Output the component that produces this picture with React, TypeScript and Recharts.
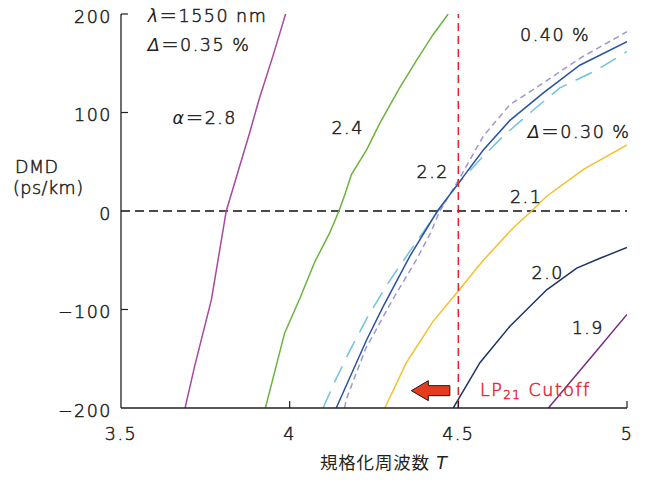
import React from "react";
import { LineChart, Line, XAxis, YAxis, ReferenceLine, ReferenceDot } from "recharts";

// ---- data (normalized frequency T, DMD ps/km) ----
const a28T = [3.69, 3.718, 3.768, 3.812, 3.881, 3.909, 3.95, 3.988];
const a28D = [-200, -158, -90, 0, 79, 113, 157, 200];

const a24T = [3.928, 3.985, 4.031, 4.074, 4.119, 4.146, 4.163, 4.183, 4.228, 4.267, 4.326, 4.376, 4.425, 4.47];
const a24D = [-200, -124, -88, -52, -22, 0, 16, 37, 62, 89, 125, 153, 179, 200];

const a22T = [4.138, 4.185, 4.228, 4.277, 4.356, 4.438, 4.5, 4.574, 4.653, 4.752, 4.86, 5.0];
const a22D = [-200, -164, -131, -97, -46, 0, 28, 62, 92, 120, 148, 172];

const d30T = [4.099, 4.134, 4.178, 4.232, 4.292, 4.356, 4.44, 4.5, 4.564, 4.633, 4.717, 4.801, 4.91, 5.0];
const d30D = [-200, -173, -142, -107, -73, -41, 0, 28, 52, 76, 101, 125, 143, 162];

const d40T = [4.163, 4.168, 4.225, 4.305, 4.375, 4.418, 4.445, 4.5, 4.574, 4.653, 4.752, 4.86, 5.0];
const d40D = [-200, -191, -140, -90, -50, -22, 0, 31, 76, 108, 130, 155, 182];

const a21T = [4.282, 4.346, 4.425, 4.498, 4.574, 4.663, 4.717, 4.762, 4.87, 5.0];
const a21D = [-200, -154, -112, -82, -50, -17, 0, 15, 42, 67];

const a20T = [4.485, 4.564, 4.653, 4.762, 4.851, 4.92, 5.0];
const a20D = [-200, -154, -117, -80, -58, -48, -37];

const a19T = [4.767, 4.88, 5.0];
const a19D = [-200, -154, -105];

const xTicks = [3.5, 4, 4.5, 5];
const yTicks = [-200, -100, 0, 100, 200];
const cutoffT = 4.5;

const toRows = (t: number[], d: number[]) => t.map((x, i) => ({ x, y: d[i] }));

const series = [
  { key: "a28", data: toRows(a28T, a28D), color: "#a8489e", dash: undefined },
  { key: "a24", data: toRows(a24T, a24D), color: "#6cb33e", dash: undefined },
  { key: "d30", data: toRows(d30T, d30D), color: "#6ec5d8", dash: "18 10" },
  { key: "d40", data: toRows(d40T, d40D), color: "#9c98d0", dash: "6 4" },
  { key: "a22", data: toRows(a22T, a22D), color: "#2a51a2", dash: undefined },
  { key: "a21", data: toRows(a21T, a21D), color: "#f5bf2c", dash: undefined },
  { key: "a20", data: toRows(a20T, a20D), color: "#1e3366", dash: undefined },
  { key: "a19", data: toRows(a19T, a19D), color: "#782b82", dash: undefined },
];

const FONT = "'DejaVu Sans', 'Noto Sans CJK JP', sans-serif";
const FW = 200;
const SW = 0.5;
const TXT = "#231f20";
const FS = 17.5;
const LS = 1.5;

type Ann = { x: number; y: number; parts: { t: string; it?: boolean; sub?: boolean }[]; color?: string };
const annotations: Ann[] = [
  { x: 3.579, y: 198, parts: [{ t: "λ", it: true }, { t: "＝1550 nm" }] },
  { x: 3.579, y: 168.6, parts: [{ t: "Δ", it: true }, { t: "＝0.35 %" }] },
  { x: 3.653, y: 94.5, parts: [{ t: "α", it: true }, { t: "＝2.8" }] },
  { x: 4.124, y: 84.4, parts: [{ t: "2.4" }] },
  { x: 4.376, y: 40.1, parts: [{ t: "2.2" }] },
  { x: 4.683, y: 178.7, parts: [{ t: "0.40 %" }] },
  { x: 4.706, y: 80.3, parts: [{ t: "Δ", it: true }, { t: "＝0.30 %" }] },
  { x: 4.653, y: 14.7, parts: [{ t: "2.1" }] },
  { x: 4.717, y: -62.7, parts: [{ t: "2.0" }] },
  { x: 4.836, y: -118.5, parts: [{ t: "1.9" }] },
  { x: 4.564, y: -181.4, parts: [{ t: "LP" }, { t: "21", sub: true }, { t: " Cutoff" }], color: "#e8242e" },
];

const textShape = (a: Ann) => (props: any) => (
  <text
    x={props.cx}
    y={props.cy}
    dominantBaseline="central"
    fontFamily={FONT}
    fontWeight={FW}
    fontSize={FS}
    letterSpacing={LS}
    fill={a.color || TXT}
    stroke={a.color || TXT}
    strokeWidth={SW}
  >
    {a.parts.map((p, i) => (
      <tspan
        key={i}
        fontStyle={p.it ? "italic" : undefined}
        fontWeight={p.it ? 400 : undefined}
        strokeWidth={p.it ? 0 : undefined}
        fontSize={p.sub ? 12 : undefined}
        dy={p.sub ? 5 : i > 0 && a.parts[i - 1].sub ? -5 : undefined}
      >
        {p.t}
      </tspan>
    ))}
  </text>
);

const arrowShape = (props: any) => {
  const { cx, cy } = props;
  const d = `M ${cx - 20} ${cy} L ${cx - 3} ${cy - 10} L ${cx - 3} ${cy - 5} L ${cx + 18.5} ${cy - 5} L ${cx + 18.5} ${cy + 5} L ${cx - 3} ${cy + 5} L ${cx - 3} ${cy + 10} Z`;
  return <path d={d} fill="#e63c1e" stroke="#1a1a1a" strokeWidth={1} />;
};

const fmtY = (v: number) => (v < 0 ? "−" + Math.abs(v) : String(v));

const txtProps = { fontFamily: FONT, fontWeight: FW, fontSize: FS, fill: TXT, stroke: TXT, strokeWidth: SW };

const YTick = (props: any) => {
  const { x, y, payload } = props;
  const ax = x + 9;
  return (
    <g>
      {payload.value !== -200 && payload.value !== 0 && (
        <line x1={ax} x2={ax + 7} y1={y} y2={y} stroke={TXT} strokeWidth={1.2} />
      )}
      <text x={x} y={y + 2.5} textAnchor="end" dominantBaseline="central" letterSpacing={LS} {...txtProps}>
        {fmtY(payload.value)}
      </text>
    </g>
  );
};

const XTick = (props: any) => {
  const { x, y, payload } = props;
  const ay = y - 9;
  return (
    <g>
      {payload.value !== 3.5 && (
        <line x1={x} x2={x} y1={ay} y2={ay - 7} stroke={TXT} strokeWidth={1.2} />
      )}
      <text x={x} y={ay + 25.5} textAnchor="middle" dominantBaseline="central" letterSpacing={LS} {...txtProps}>
        {String(payload.value)}
      </text>
    </g>
  );
};

const YLabel = (props: any) => (
  <g {...txtProps} letterSpacing={0.5}>
    <text x={15} y={166.5} dominantBaseline="central">DMD</text>
    <text x={13} y={187.5} dominantBaseline="central">(ps/km)</text>
  </g>
);

const XLabel = (props: any) => (
  <text x={320} y={463} dominantBaseline="central" letterSpacing={0.8} {...txtProps} fontWeight={400} strokeWidth={0}>
    規格化周波数 <tspan fontStyle="italic">T</tspan>
  </text>
);

export default function App() {
  return (
    <div style={{ position: "absolute", left: 0, top: 0, background: "#fff" }}>
      <LineChart width={649} height={485} margin={{ top: 14, right: 22, bottom: 0, left: 0 }}>
        <XAxis
          type="number"
          dataKey="x"
          domain={[3.5, 5]}
          ticks={xTicks}
          allowDataOverflow
          height={77}
          tickSize={0}
          tickMargin={9}
          tickLine={false}
          axisLine={{ stroke: TXT, strokeWidth: 1.3 }}
          tick={XTick}
          label={{ content: XLabel }}
        />
        <YAxis
          type="number"
          dataKey="y"
          domain={[-200, 200]}
          ticks={yTicks}
          allowDataOverflow
          width={121}
          tickSize={0}
          tickMargin={9}
          tickLine={false}
          axisLine={{ stroke: TXT, strokeWidth: 1.3 }}
          tick={YTick}
          label={{ content: YLabel }}
        />
        <ReferenceLine y={0} stroke="#111" strokeWidth={1.3} strokeDasharray="9 5" />
        {series.map((s) => (
          <Line
            key={s.key}
            data={s.data}
            dataKey="y"
            type="linear"
            stroke={s.color}
            strokeWidth={1.5}
            strokeDasharray={s.dash}
            dot={false}
            activeDot={false}
            isAnimationActive={false}
          />
        ))}
        <ReferenceLine x={cutoffT} stroke="#e8202a" strokeWidth={1.5} strokeDasharray="8 5" />
        <ReferenceDot x={4.42} y={-182.4} r={0} ifOverflow="visible" shape={arrowShape} />
        {annotations.map((a, i) => (
          <ReferenceDot key={i} x={a.x} y={a.y} r={0} ifOverflow="visible" shape={textShape(a)} />
        ))}
      </LineChart>
    </div>
  );
}
